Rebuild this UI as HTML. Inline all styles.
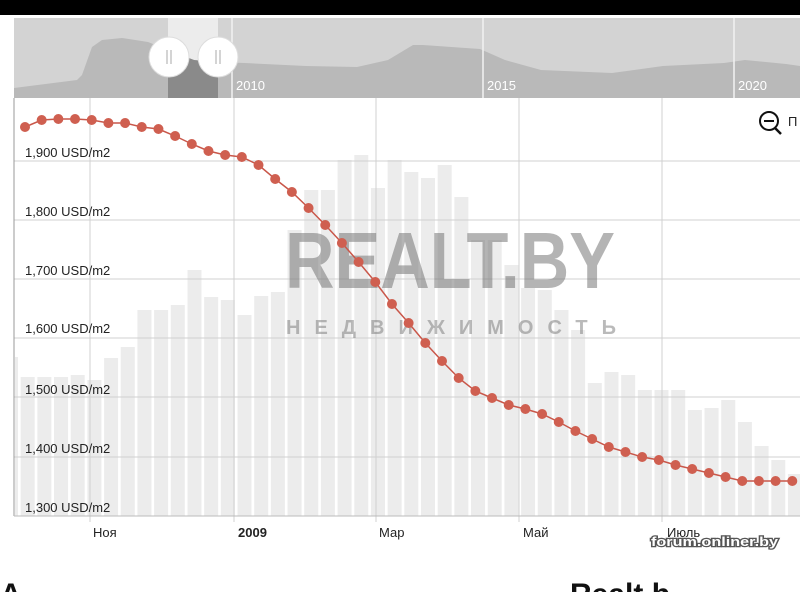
<!DOCTYPE html>
<html><head><meta charset="utf-8"><style>
body{margin:0;background:#fff;width:800px;height:592px;overflow:hidden;font-family:"Liberation Sans",sans-serif}
</style></head><body>
<svg id="s" width="800" height="592" xmlns="http://www.w3.org/2000/svg" style="position:absolute;left:0;top:0">
<rect x="0" y="0" width="800" height="15" fill="#000"/>
<rect x="14" y="18" width="786" height="80" fill="#d3d3d3"/>
<rect x="168" y="18" width="50" height="80" fill="#ececec"/>
<path id="nav" fill="#b9b9b9" d=""/>
<path id="navsel" fill="#8a8a8a" d=""/>
<line x1="232" y1="18" x2="232" y2="98" stroke="#f2f2f2" stroke-width="1.5"/>
<line x1="483" y1="18" x2="483" y2="98" stroke="#f2f2f2" stroke-width="1.5"/>
<line x1="734" y1="18" x2="734" y2="98" stroke="#f2f2f2" stroke-width="1.5"/>
<text x="236" y="90" font-size="13" fill="#fff">2010</text>
<text x="487" y="90" font-size="13" fill="#fff">2015</text>
<text x="738" y="90" font-size="13" fill="#fff">2020</text>
<circle cx="169" cy="57" r="20" fill="#fff" stroke="#ddd"/>
<circle cx="218" cy="57" r="20" fill="#fff" stroke="#ddd"/>
<path d="M167 50v14M171 50v14M216 50v14M220 50v14" stroke="#aaa" stroke-width="1"/>
<g id="bars"></g>
<g stroke="#d0d0d0" stroke-width="1">
<line x1="90" y1="98" x2="90" y2="522"/><line x1="234" y1="98" x2="234" y2="522"/>
<line x1="376" y1="98" x2="376" y2="522"/><line x1="519" y1="98" x2="519" y2="522"/>
<line x1="662" y1="98" x2="662" y2="522"/>
<line x1="14" y1="161" x2="800" y2="161"/><line x1="14" y1="220" x2="800" y2="220"/>
<line x1="14" y1="279" x2="800" y2="279"/><line x1="14" y1="338" x2="800" y2="338"/>
<line x1="14" y1="397" x2="800" y2="397"/><line x1="14" y1="457" x2="800" y2="457"/>
</g>
<line x1="14" y1="98" x2="14" y2="516" stroke="#999"/>
<line x1="14" y1="516" x2="800" y2="516" stroke="#bbb"/>
<text x="285" y="288" font-size="80" font-weight="bold" fill="#777" opacity="0.55" textLength="330" lengthAdjust="spacingAndGlyphs">REALT.BY</text>
<text x="286" y="334" font-size="20" font-weight="bold" fill="#777" opacity="0.5" textLength="330" lengthAdjust="spacing">НЕДВИЖИМОСТЬ</text>
<g font-size="13" fill="#222">
<text x="25" y="157">1,900 USD/m2</text><text x="25" y="216">1,800 USD/m2</text>
<text x="25" y="275">1,700 USD/m2</text><text x="25" y="333">1,600 USD/m2</text>
<text x="25" y="394">1,500 USD/m2</text><text x="25" y="453">1,400 USD/m2</text>
<text x="25" y="512">1,300 USD/m2</text>
</g>
<polyline id="line" fill="none" stroke="#c9574a" stroke-width="1.5" points=""/>
<g id="dots" fill="#cf5f50"></g>
<g font-size="13" fill="#222">
<text x="93" y="537">Ноя</text><text x="238" y="537" font-weight="bold">2009</text>
<text x="379" y="537">Мар</text><text x="523" y="537">Май</text><text x="667" y="537">Июль</text>
</g>
<circle cx="769" cy="121" r="9" fill="none" stroke="#111" stroke-width="2"/>
<line x1="764" y1="121" x2="774" y2="121" stroke="#111" stroke-width="2"/>
<line x1="775" y1="128" x2="781" y2="134" stroke="#111" stroke-width="2.5"/>
<text x="788" y="126" font-size="13" fill="#222">П</text>
<text x="651" y="546" font-size="13" font-weight="bold" fill="#fff" stroke="#555" stroke-width="2.5" paint-order="stroke" textLength="127" lengthAdjust="spacingAndGlyphs">forum.onliner.by</text>
<text x="0" y="604" font-size="30" font-weight="bold" fill="#111">А</text>
<text x="570" y="604" font-size="30" font-weight="bold" fill="#111">Realt.b</text>
</svg>
<script>
var NS="http://www.w3.org/2000/svg";
var ys=[127,120,119,119,120,123,123,127,129,136,144,151,155,157,165,179,192,208,225,243,262,282,304,323,343,361,378,391,398,405,409,414,422,431,439,447,452,457,460,465,469,473,477,481,481,481,481];
var pts=[],d=document.getElementById('dots');
ys.forEach(function(y,i){var x=25+i*16.68;pts.push(x+","+y);var c=document.createElementNS(NS,'circle');c.setAttribute('cx',x);c.setAttribute('cy',y);c.setAttribute('r',5);d.appendChild(c);});
document.getElementById('line').setAttribute('points',pts.join(' '));
var bt=[357,377,377,377,375,380,358,347,310,310,305,270,297,300,315,296,292,230,190,190,160,155,188,160,172,178,165,197,240,240,265,288,290,310,330,383,372,375,390,390,390,410,408,400,422,446,460,474];
var b=document.getElementById('bars');
bt.forEach(function(t,i){var x=4+i*16.68;var r=document.createElementNS(NS,'rect');r.setAttribute('x',Math.max(x,15));r.setAttribute('y',t);r.setAttribute('width',x<15?x+14-15:14);r.setAttribute('height',516-t);r.setAttribute('fill','#ececec');b.appendChild(r);});
var np=[[14,88],[77,80],[82,75],[92,47],[102,40],[122,38],[148,42],[168,50],[194,60],[214,62],[245,63],[306,66],[357,67],[388,60],[413,45],[423,45],[480,49],[505,60],[541,70],[612,73],[663,66],[724,63],[745,60],[786,64],[800,66]];
var s="M14 98 ";np.forEach(function(p){s+="L"+p[0]+" "+p[1]+" ";});s+="L800 98Z";
document.getElementById('nav').setAttribute('d',s);
document.getElementById('navsel').setAttribute('d',"M168 98L168 50L194 60L214 62L218 62L218 98Z");
</script>
</body></html>
